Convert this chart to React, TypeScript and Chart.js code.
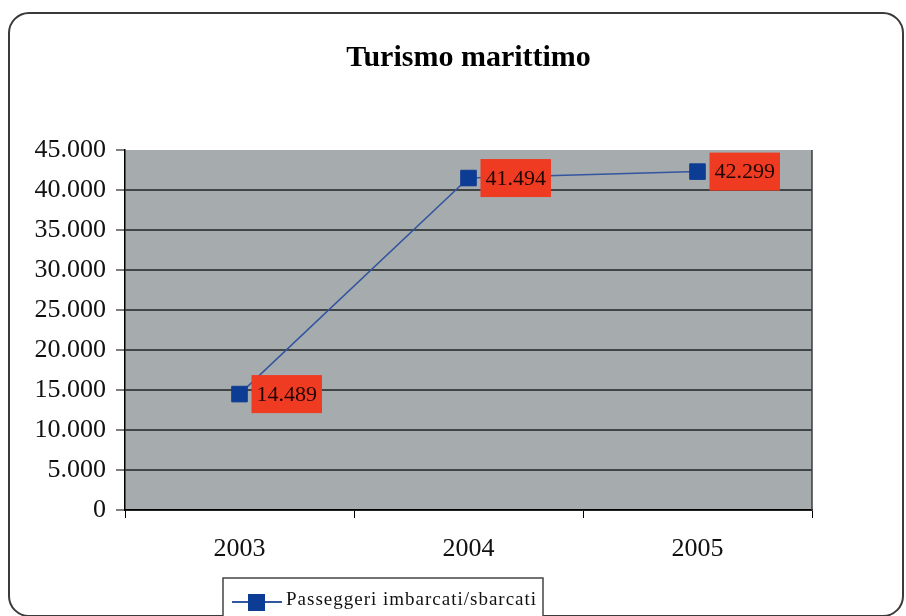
import React, { useEffect, useRef } from "react";
import { Chart, registerables } from "chart.js";

Chart.register(...registerables);

const categories = ["2003", "2004", "2005"];
const seriesLabel = "Passeggeri imbarcati/sbarcati";
const passengers = [14489, 41494, 42299];
const yMin = 0;
const yMax = 45000;
const yStep = 5000;
const chartTitle = "Turismo marittimo";

const fmt = (n: number) => String(n).replace(/\B(?=(\d{3})+(?!\d))/g, ".");

const SERIF = "'Liberation Serif', 'Times New Roman', serif";

const decorPlugin = {
  id: "decor",
  beforeDraw(chart: any) {
    const { ctx, chartArea, width, height } = chart;
    ctx.save();
    ctx.fillStyle = "#ffffff";
    ctx.fillRect(0, 0, width, height);
    // frame
    ctx.beginPath();
    ctx.lineWidth = 2;
    ctx.strokeStyle = "#3a3a3a";
    (ctx as any).roundRect(9, 13, 894, 603, 20);
    ctx.stroke();
    // plot background
    ctx.fillStyle = "#a6abad";
    ctx.fillRect(chartArea.left, chartArea.top, chartArea.right - chartArea.left, chartArea.bottom - chartArea.top);
    ctx.restore();
  },
  afterDatasetsDraw(chart: any) {
    const { ctx, chartArea } = chart;
    ctx.save();
    // right border of plot
    ctx.strokeStyle = "#3a3d3e";
    ctx.lineWidth = 1.5;
    ctx.beginPath();
    ctx.moveTo(chartArea.right, chartArea.top);
    ctx.lineTo(chartArea.right, chartArea.bottom);
    ctx.stroke();

    // data labels
    const meta = chart.getDatasetMeta(0);
    const data = chart.data.datasets[0].data as number[];
    ctx.font = `22px ${SERIF}`;
    meta.data.forEach((pt: any, i: number) => {
      const txt = fmt(data[i]);
      const tw = ctx.measureText(txt).width;
      const bw = tw + 10;
      const bh = 38;
      const bx = pt.x + 12;
      const by = pt.y - bh / 2;
      ctx.fillStyle = "#ef3b22";
      ctx.fillRect(bx, by, bw, bh);
      ctx.fillStyle = "#200604";
      ctx.textAlign = "center";
      ctx.textBaseline = "middle";
      ctx.fillText(txt, bx + bw / 2, pt.y + 1);
    });
    ctx.restore();
  },
  afterDraw(chart: any) {
    const { ctx, chartArea } = chart;
    ctx.save();
    // title
    ctx.font = `bold 30px ${SERIF}`;
    ctx.fillStyle = "#000";
    ctx.textAlign = "center";
    ctx.textBaseline = "middle";
    ctx.fillText(chartTitle, (chartArea.left + chartArea.right) / 2, 58);

    // legend
    const lx = 223, ly = 578, lw = 320, lh = 40;
    ctx.fillStyle = "#ffffff";
    ctx.fillRect(lx, ly, lw, lh);
    ctx.strokeStyle = "#444";
    ctx.lineWidth = 1.5;
    ctx.strokeRect(lx, ly, lw, lh);
    const my = 602;
    ctx.strokeStyle = "#3355a0";
    ctx.lineWidth = 2;
    ctx.beginPath();
    ctx.moveTo(232, my);
    ctx.lineTo(282, my);
    ctx.stroke();
    ctx.fillStyle = "#0d3c94";
    ctx.fillRect(248, my - 8, 17, 17);
    ctx.font = `19px ${SERIF}`;
    (ctx as any).letterSpacing = "1px";
    ctx.fillStyle = "#111";
    ctx.textAlign = "left";
    ctx.textBaseline = "middle";
    ctx.fillText(chart.data.datasets[0].label, 286, 600);
    ctx.restore();
  },
};

export default function App() {
  const ref = useRef<HTMLCanvasElement | null>(null);
  useEffect(() => {
    if (!ref.current) return;
    const chart = new Chart(ref.current, {
      type: "line",
      data: {
        labels: categories,
        datasets: [
          {
            label: seriesLabel,
            data: passengers,
            borderColor: "#3355a0",
            borderWidth: 1.5,
            pointStyle: "rect",
            pointRadius: 11,
            pointHoverRadius: 11,
            pointBackgroundColor: "#0d3c94",
            pointBorderColor: "#0d3c94",
            pointBorderWidth: 1,
            tension: 0,
          },
        ],
      },
      options: {
        responsive: false,
        animation: false,
        events: [],
        layout: { padding: { left: 0, right: 94, top: 150, bottom: 56 } },
        plugins: {
          legend: { display: false },
          title: { display: false },
          tooltip: { enabled: false },
        },
        scales: {
          x: {
            type: "category",
            offset: true,
            grid: {
              offset: true,
              drawOnChartArea: false,
              drawTicks: true,
              tickLength: 8,
              color: "#000",
              lineWidth: 1,
            },
            border: { color: "#000", width: 1.5 },
            ticks: {
              font: { family: SERIF, size: 26 },
              color: "#111",
              padding: 16,
              maxRotation: 0,
            },
            afterFit: (s: any) => {
              s.height = 50;
            },
          },
          y: {
            min: yMin,
            max: yMax,
            ticks: {
              stepSize: yStep,
              font: { family: SERIF, size: 26 },
              color: "#111",
              padding: 10,
              callback: (v: any) => fmt(Number(v)),
            },
            grid: {
              color: (c: any) => (c.tick && c.tick.value === yMax ? "rgba(0,0,0,0)" : "#404445"),
              lineWidth: 2,
              tickColor: "#000",
              tickLength: 9,
              tickWidth: 1,
            },
            border: { color: "#000", width: 1.5 },
            afterFit: (s: any) => {
              s.width = 125;
            },
          },
        },
      },
      plugins: [decorPlugin],
    } as any);
    return () => chart.destroy();
  }, []);
  return (
    <div style={{ position: "fixed", left: 0, top: 0, width: 906, height: 616 }}>
      <canvas ref={ref} width={906} height={616} style={{ display: "block" }} />
    </div>
  );
}
